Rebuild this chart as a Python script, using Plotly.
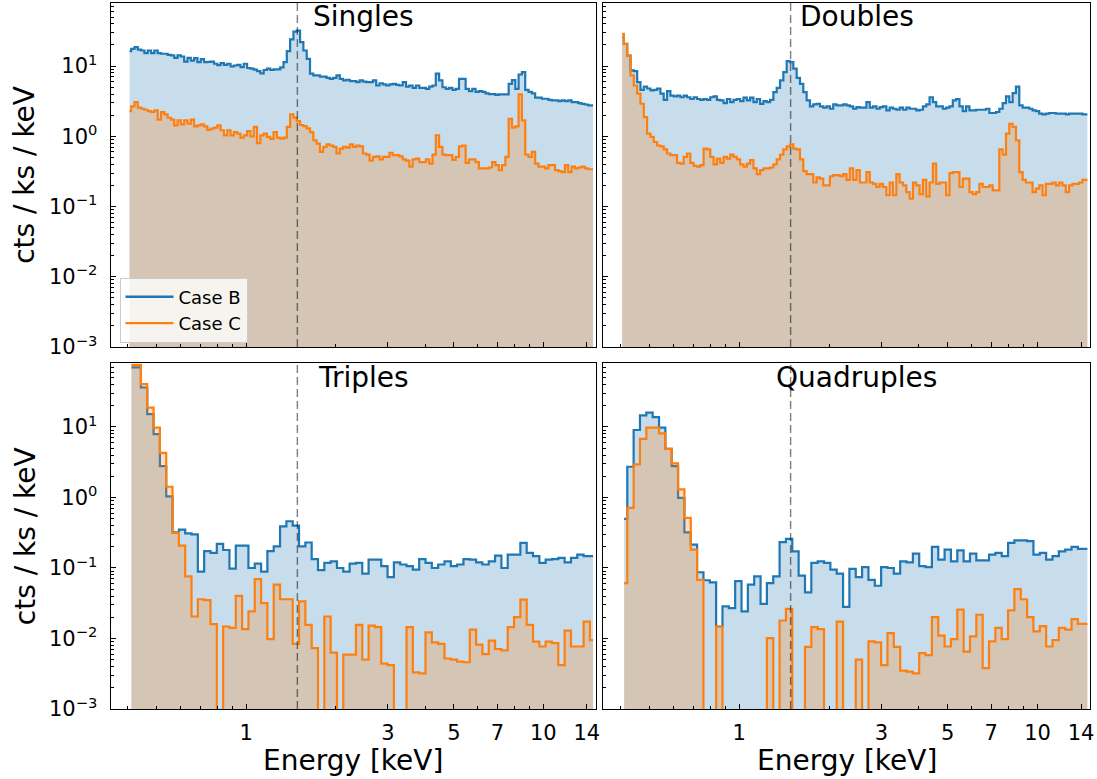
import numpy as np
import plotly.graph_objects as go

# ---------------- data ----------------
# bin-centre energies (keV), log-spaced
E_FINE = np.geomspace(0.405, 14.7, 141)     # Singles / Doubles
E_COARSE = np.geomspace(0.411, 14.7, 74)    # Triples / Quadruples
AL_LINE_KEV = 1.4865

X_TICKS = [1, 3, 5, 7, 10, 14]
X_TICK_TEXT = ["1", "3", "5", "7", "10", "14"]
Y_TICKS = [1e-3, 1e-2, 1e-1, 1, 10]
Y_TICK_TEXT = ["10<sup>\u22123</sup>", "10<sup>\u22122</sup>", "10<sup>\u22121</sup>",
               "10<sup>0</sup>", "10<sup>1</sup>"]
PANEL_TITLES = ["Singles", "Doubles", "Triples", "Quadruples"]
CASE_NAMES = ["Case B", "Case C"]

singles_B = [
    16.3, 17.6, 18.6, 17.2, 16.7, 15.3, 16.7, 15.3, 16.7, 15.3,
    15.0, 15.0, 14.5, 14.2, 13.1, 14.2, 13.7, 11.6, 13.1, 12.0,
    13.0, 11.4, 12.6, 11.4, 11.5, 11.6, 10.8, 10.3, 11.0, 10.4,
    10.8, 9.9, 10.2, 10.4, 9.7, 10.8, 9.4, 9.2, 8.9, 8.5,
    7.9, 8.8, 9.2, 8.8, 9.0, 9.0, 9.6, 11.4, 16.3, 24.0,
    31.0, 32.0, 22.0, 16.7, 12.7, 7.8,
    7.4, 7.4, 7.1, 7.1, 6.8, 6.6, 6.8, 7.4, 6.6, 6.25,
    6.4, 6.1, 6.1, 5.9, 6.25, 6.0, 5.9, 5.9, 6.25, 5.3,
    5.7, 5.5, 5.3, 5.5, 5.6, 5.4, 5.3, 5.9, 5.1, 5.3,
    4.9, 5.3, 4.9, 4.9, 4.75, 5.1, 5.3, 7.8, 6.25, 5.0,
    4.75, 4.9, 4.6, 4.75, 6.6, 6.6, 4.75, 4.4, 4.75, 4.3,
    4.4, 4.3, 4.1, 4.0, 4.0, 3.9, 3.95, 3.95, 3.95, 5.6,
    6.3, 4.75, 7.6, 8.2, 4.6, 4.3, 4.1, 3.55, 3.55, 3.43,
    3.43, 3.3, 3.25, 3.25, 3.18, 3.25, 3.18, 3.25, 3.07, 3.07,
    2.97, 2.9, 2.84, 2.76, 2.76,
]
singles_C = [
    2.29, 2.67, 3.08, 2.56, 2.47, 2.39, 2.29, 2.22, 2.34, 1.73,
    2.22, 2.06, 1.84, 1.73, 1.43, 1.69, 1.48, 1.69, 1.51, 1.73,
    1.39, 1.43, 1.48, 1.39, 1.24, 1.29, 1.33, 1.43, 1.22, 1.03,
    1.22, 1.03, 1.15, 1.09, 0.96, 1.03, 1.19, 1.0, 1.36, 0.80,
    1.03, 1.09, 0.98, 0.92, 1.15, 0.96, 0.93, 0.96, 1.36, 2.06,
    1.85, 1.65, 1.45, 1.40, 1.30, 1.15,
    0.88, 0.79, 0.60, 0.71, 0.77, 0.74, 0.71, 0.57, 0.67, 0.71,
    0.69, 0.77, 0.71, 0.74, 0.72, 0.57, 0.55, 0.45, 0.51, 0.52,
    0.47, 0.51, 0.51, 0.58, 0.54, 0.54, 0.52, 0.47, 0.45, 0.37,
    0.47, 0.48, 0.43, 0.43, 0.47, 0.41, 0.55, 1.03, 0.71, 0.55,
    0.54, 0.54, 0.46, 0.51, 0.72, 0.74, 0.42, 0.47, 0.47, 0.43,
    0.35, 0.35, 0.35, 0.36, 0.43, 0.39, 0.33, 0.39, 0.51, 1.78,
    1.33, 1.39, 3.95, 1.69, 0.55, 0.51, 0.60, 0.41, 0.37, 0.37,
    0.35, 0.39, 0.39, 0.33, 0.32, 0.31, 0.39, 0.31, 0.37, 0.35,
    0.36, 0.37, 0.35, 0.34, 0.34,
]
doubles_B = [
    25.8, 20.8, 14.1, 8.7, 8.5, 5.9, 4.6, 5.1, 4.8, 4.5,
    4.6, 4.8, 4.05, 3.3, 4.4, 3.8, 3.7, 3.8, 3.6, 3.8,
    3.6, 3.4, 3.6, 3.4, 3.3, 3.4, 3.3, 3.6, 3.7, 3.3,
    3.25, 2.97, 3.4, 3.07, 3.3, 3.4, 3.18, 3.55, 3.25, 3.55,
    3.07, 3.4, 2.9, 3.18, 3.07, 3.3, 4.27, 4.9, 6.25, 8.2,
    11.8, 11.4, 9.2, 6.8, 5.6, 4.27, 3.25, 2.67, 2.85, 2.91,
    2.67, 2.56, 2.67, 2.47, 2.85, 2.76, 2.76, 2.85, 2.76, 2.67,
    2.47, 2.61, 2.56, 2.56, 3.07, 2.56, 2.67, 2.47, 2.61, 2.67,
    2.34, 2.56, 2.47, 2.39, 2.56, 2.39, 2.56, 2.47, 2.47, 2.34,
    2.39, 2.67, 2.85, 3.6, 3.07, 2.67, 2.67, 2.47, 2.56, 2.67,
    3.25, 3.4, 2.67, 2.29, 2.67, 2.34, 2.34, 2.39, 2.39, 2.39,
    2.47, 2.15, 2.15, 2.22, 2.47, 2.97, 3.7, 3.07, 4.13, 5.1,
    2.76, 2.56, 2.56, 2.47, 2.34, 2.29, 2.1, 2.05, 2.1, 2.15,
    2.15, 2.1, 2.1, 2.1, 2.05, 2.1, 2.1, 2.1, 2.1, 2.05,
    2.05,
]
doubles_C = [
    28.8, 20.8, 14.1, 7.4, 5.3, 4.05, 2.91, 1.88, 1.09, 0.98,
    0.83, 0.74, 0.72, 0.65, 0.57, 0.54, 0.54, 0.42, 0.41, 0.51,
    0.57, 0.42, 0.38, 0.37, 0.39, 0.67, 0.65, 0.51, 0.40, 0.48,
    0.42, 0.51, 0.48, 0.55, 0.51, 0.47, 0.40, 0.37, 0.41, 0.46,
    0.35, 0.29, 0.33, 0.35, 0.35, 0.36, 0.40, 0.47, 0.55, 0.65,
    0.72, 0.77, 0.67, 0.65, 0.47, 0.32, 0.29, 0.29, 0.22, 0.26,
    0.25, 0.20, 0.20, 0.27, 0.28, 0.28, 0.27, 0.29, 0.24, 0.35,
    0.24, 0.33, 0.22, 0.22, 0.31, 0.22, 0.21, 0.19, 0.21, 0.19,
    0.145, 0.22, 0.145, 0.29, 0.22, 0.20, 0.16, 0.13, 0.22, 0.20,
    0.15, 0.24, 0.14, 0.22, 0.41, 0.21, 0.22, 0.22, 0.145, 0.30,
    0.31, 0.31, 0.19, 0.25, 0.25, 0.16, 0.15, 0.16, 0.21, 0.19,
    0.19, 0.20, 0.17, 0.17, 0.65, 0.55, 1.09, 1.51, 1.36, 0.88,
    0.31, 0.24, 0.22, 0.22, 0.16, 0.18, 0.20, 0.145, 0.21, 0.21,
    0.22, 0.20, 0.22, 0.20, 0.16, 0.20, 0.21, 0.21, 0.22, 0.24,
    0.24,
]
triples_B = [
    70, 70, 36.3, 15.2, 7.9, 2.79, 1.04, 0.32, 0.35, 0.31,
    0.30, 0.089, 0.173, 0.164, 0.22, 0.18, 0.098, 0.208, 0.208, 0.10,
    0.115, 0.089, 0.173, 0.203, 0.39, 0.46, 0.40, 0.203, 0.23, 0.134,
    0.093, 0.118, 0.124, 0.10, 0.089, 0.115, 0.118, 0.083, 0.131, 0.131,
    0.106, 0.074, 0.12, 0.112, 0.106, 0.095, 0.134, 0.118, 0.10, 0.112,
    0.124, 0.106, 0.112, 0.134, 0.131, 0.12, 0.112, 0.124, 0.15, 0.10,
    0.155, 0.155, 0.227, 0.164, 0.147, 0.118, 0.131, 0.134, 0.139, 0.12,
    0.139, 0.155, 0.147, 0.147,
]
triples_C = [
    76, 76, 40.4, 18.8, 9.8, 4.3, 1.42, 0.314, 0.208, 0.076,
    0.0205, 0.036, 0.035, 0.016, 0, 0.0148, 0.0141, 0.0403, 0.0136, 0.0242,
    0.0697, 0.0318, 0.0098, 0.058, 0.036, 0.036, 0.0084, 0.0337, 0.0156, 0.0073,
    0, 0.0205, 0.0063, 0, 0.0059, 0.0059, 0.0156, 0.005, 0.0152, 0.0145,
    0.0044, 0.0042, 0, 0, 0.0145, 0.0033, 0.0032, 0.0122, 0.0088, 0.0084,
    0.0052, 0.005, 0.0047, 0.0046, 0.0134, 0.0082, 0.006, 0.0093, 0.0071, 0.0068,
    0.0145, 0.0201, 0.0355, 0.0156, 0.009, 0.0077, 0.009, 0.0086, 0.0042, 0.0129,
    0.0077, 0.0077, 0.0174, 0.0095,
]
quadruples_B = [
    0.497, 2.73, 9.06, 14.6, 16.0, 13.8, 9.8, 4.9, 2.79, 0.99,
    0.32, 0.215, 0.087, 0.067, 0.0625, 0.0148, 0.0286, 0.027, 0.065, 0.0242,
    0.058, 0.076, 0.031, 0.061, 0.076, 0.232, 0.258, 0.172, 0.078, 0.045,
    0.118, 0.124, 0.118, 0.095, 0.083, 0.028, 0.097, 0.074, 0.103, 0.068,
    0.056, 0.103, 0.10, 0.083, 0.124, 0.12, 0.16, 0.106, 0.103, 0.199,
    0.131, 0.182, 0.124, 0.178, 0.124, 0.16, 0.128, 0.128, 0.155, 0.164,
    0.147, 0.227, 0.247, 0.247, 0.24, 0.155, 0.164, 0.131, 0.147, 0.172,
    0.182, 0.199, 0.187, 0.187,
]
quadruples_C = [
    0.061, 0.713, 2.95, 6.8, 9.8, 9.8, 8.1, 4.9, 3.04, 1.30,
    0.514, 0.182, 0.068, 0, 0, 0.0148, 0, 0, 0, 0,
    0, 0, 0, 0.0101, 0, 0.018, 0.0263, 0, 0, 0.0076,
    0.0145, 0.0136, 0, 0, 0.0174, 0, 0, 0.005, 0, 0.0091,
    0.0088, 0.0042, 0.0119, 0.0076, 0.0035, 0.0034, 0.0032, 0.0062, 0.0058, 0.0201,
    0.011, 0.0077, 0.0098, 0.0256, 0.0065, 0.0107, 0.0217, 0.0038, 0.0091, 0.0141,
    0.0098, 0.025, 0.05, 0.036, 0.0201, 0.0126, 0.015, 0.0077, 0.0095, 0.0141,
    0.0134, 0.0188, 0.0161, 0.0161,
]

# ---------------- style ----------------
FONT = "DejaVu Sans"
C_B = "#1f77b4"
C_C = "#ff7f0e"
FILL_B = "rgba(31,119,180,0.25)"
FILL_C = "rgba(255,127,14,0.25)"
W, H = 1097, 779

def px_x(p):
    return p / W

def px_y(p):
    return 1 - p / H

XD_L = [px_x(110.7), px_x(595.7)]
XD_R = [px_x(603.3), px_x(1090.0)]
YD_T = [px_y(347.0), px_y(2.7)]
YD_B = [px_y(709.0), px_y(363.3)]

ZERO_FLOOR = 1e-8  # empty bins drop below the axis (log scale)

def floor0(v):
    return [x if x > 0 else ZERO_FLOOR for x in v]

panels = [
    ("x", "y", E_FINE, singles_B, singles_C),
    ("x2", "y2", E_FINE, doubles_B, doubles_C),
    ("x3", "y3", E_COARSE, triples_B, triples_C),
    ("x4", "y4", E_COARSE, quadruples_B, quadruples_C),
]

fig = go.Figure()
for xa, ya, e, b, c in panels:
    for vals, col, fcol, name in ((b, C_B, FILL_B, CASE_NAMES[0]), (c, C_C, FILL_C, CASE_NAMES[1])):
        fig.add_trace(go.Scatter(
            x=e, y=floor0(vals), xaxis=xa, yaxis=ya, mode="lines",
            line=dict(color=col, width=2.2, shape="hvh"),
            fill="tozeroy", fillcolor=fcol, showlegend=False, name=name,
            hoverinfo="skip"))

# legend-only entries (line handles as in the reference)
for name, col in zip(CASE_NAMES, (C_B, C_C)):
    fig.add_trace(go.Scatter(x=[None], y=[None], xaxis="x", yaxis="y", mode="lines",
                             line=dict(color=col, width=2.4), name=name, showlegend=True))

x_minor = [0.4, 0.5, 0.6, 0.7, 0.8, 0.9, 2, 4, 6, 8, 9]
y_minor = [m * 10.0 ** k for k in range(-3, 2) for m in range(2, 10) if m * 10.0 ** k <= 80]

def xaxis_cfg(domain, anchor, labels):
    return dict(
        type="log", domain=domain, anchor=anchor, range=[np.log10(0.35), np.log10(15)],
        automargin=False,
        showline=True, linecolor="black", linewidth=1.2, mirror=True,
        showgrid=False, zeroline=False,
        ticks="inside", ticklen=5, tickwidth=1.1, tickcolor="black",
        tickmode="array", tickvals=X_TICKS, ticktext=X_TICK_TEXT,
        showticklabels=labels, ticklabelstandoff=5,
        tickfont=dict(family=FONT, size=21, color="black"),
        minor=dict(tickmode="array", tickvals=x_minor, ticks="inside", ticklen=3,
                   tickwidth=0.9, tickcolor="black", showgrid=False),
    )

def yaxis_cfg(domain, anchor, labels):
    return dict(
        type="log", domain=domain, anchor=anchor, range=[-3, np.log10(80)],
        automargin=False,
        showline=True, linecolor="black", linewidth=1.2, mirror=True,
        showgrid=False, zeroline=False,
        ticks="inside", ticklen=5, tickwidth=1.1, tickcolor="black",
        tickmode="array", tickvals=Y_TICKS, ticktext=Y_TICK_TEXT,
        showticklabels=labels, ticklabelstandoff=8,
        tickfont=dict(family=FONT, size=21, color="black"),
        minor=dict(tickmode="array", tickvals=y_minor, ticks="inside", ticklen=3,
                   tickwidth=0.9, tickcolor="black", showgrid=False),
    )

fig.update_layout(
    width=W, height=H, autosize=False, margin=dict(l=0, r=0, t=0, b=0, pad=0),
    paper_bgcolor="white", plot_bgcolor="white",
    font=dict(family=FONT, color="black"),
    xaxis=xaxis_cfg(XD_L, "y", False), yaxis=yaxis_cfg(YD_T, "x", True),
    xaxis2=xaxis_cfg(XD_R, "y2", False), yaxis2=yaxis_cfg(YD_T, "x2", False),
    xaxis3=xaxis_cfg(XD_L, "y3", True), yaxis3=yaxis_cfg(YD_B, "x3", True),
    xaxis4=xaxis_cfg(XD_R, "y4", True), yaxis4=yaxis_cfg(YD_B, "x4", False),
    legend=dict(x=px_x(119.5), y=px_y(277.5), xanchor="left", yanchor="top",
                bgcolor="rgba(255,255,255,0.8)", bordercolor="#cccccc", borderwidth=1,
                itemwidth=48,
                font=dict(family=FONT, size=18, color="black")),
    showlegend=True,
)

# dashed reference line at Al K-alpha in every panel
for xa, ya in (("x", "y"), ("x2", "y2"), ("x3", "y3"), ("x4", "y4")):
    fig.add_shape(type="line", xref=xa, yref=ya + " domain", x0=AL_LINE_KEV, x1=AL_LINE_KEV,
                  y0=0, y1=1, line=dict(color="rgba(0,0,0,0.5)", width=1.4, dash="8px,4px"),
                  layer="above")

# panel titles
title_pos = [
    ((XD_L[0] + XD_L[1]) / 2 + px_x(10), px_y(17)),
    ((XD_R[0] + XD_R[1]) / 2 + px_x(10), px_y(17)),
    ((XD_L[0] + XD_L[1]) / 2 + px_x(10), px_y(377)),
    ((XD_R[0] + XD_R[1]) / 2 + px_x(10), px_y(377)),
]
for t, (tx, ty) in zip(PANEL_TITLES, title_pos):
    fig.add_annotation(text=t, x=tx, y=ty, xref="paper", yref="paper", showarrow=False,
                       xanchor="center", yanchor="middle", borderpad=0,
                       font=dict(family=FONT, size=28))

# axis labels
for xd in (XD_L, XD_R):
    fig.add_annotation(text="Energy [keV]", x=(xd[0] + xd[1]) / 2, y=px_y(760), xref="paper",
                       yref="paper", showarrow=False, xanchor="center", yanchor="middle",
                       borderpad=0, font=dict(family=FONT, size=28))
for yd in (YD_T, YD_B):
    fig.add_annotation(text="cts / ks / keV", x=px_x(25), y=(yd[0] + yd[1]) / 2, xref="paper",
                       yref="paper", showarrow=False, xanchor="center", yanchor="middle",
                       borderpad=0, textangle=-90, font=dict(family=FONT, size=28))

fig.write_html("out.html")
